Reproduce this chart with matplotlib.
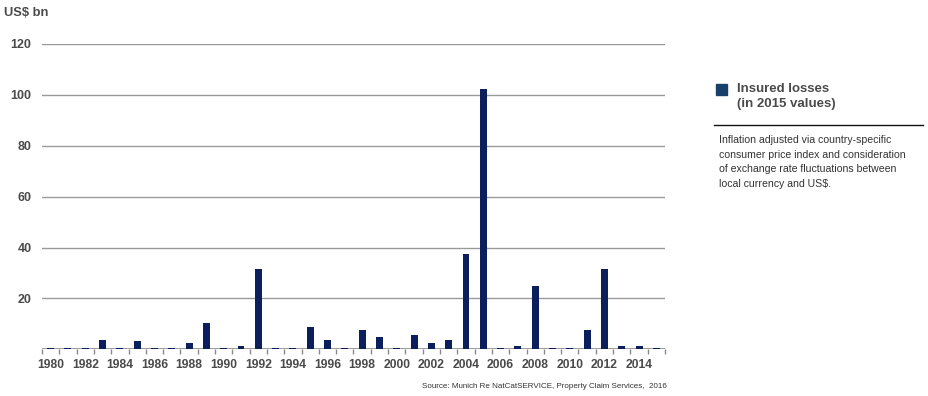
import matplotlib
matplotlib.use("Agg")
import matplotlib.pyplot as plt
import numpy as np

plt.rcParams['font.family'] = ['Liberation Sans', 'DejaVu Sans']

years = list(range(1980, 2016))
losses = [0.6, 0.6, 0.6, 3.8, 0.6, 3.1, 0.6, 0.6, 2.3, 10.5,
          0.6, 1.3, 31.4, 0.6, 0.6, 8.7, 3.8, 0.6, 7.7, 5.0,
          0.6, 5.5, 2.3, 3.8, 37.4, 102.3, 0.6, 1.3, 24.9, 0.6,
          0.7, 7.6, 31.6, 1.2, 1.4, 0.6]
yticks = [20, 40, 60, 80, 100, 120]
legend_label = "Insured losses\n(in 2015 values)"
note = ("Inflation adjusted via country-specific\n"
        "consumer price index and consideration\n"
        "of exchange rate fluctuations between\n"
        "local currency and US$.")
source = "Source: Munich Re NatCatSERVICE, Property Claim Services,  2016"

W, H = 929, 396
fig = plt.figure(figsize=(W / 100, H / 100), dpi=100)
ax = fig.add_axes([42 / W, 1 - 349.3 / H, (665 - 42) / W, (349.3 - 44) / H])

bar_color = "#0b1f5c"
text_color = "#4a4a4a"
x = np.arange(len(years))
ax.bar(x, losses, width=0.4, color=bar_color, zorder=3)

ax.set_xlim(-0.5, len(years) - 0.5)
ax.set_ylim(0, 120)
for y in yticks:
    ax.axhline(y, color="#9a9a9a", lw=1.0, zorder=1)
ax.axhline(0, color="#8a8a8a", lw=1.2, zorder=2)
ax.set_yticks(yticks)
ax.set_yticklabels([str(v) for v in yticks], fontsize=9, fontweight="bold", color=text_color)
ax.tick_params(axis="y", length=0, pad=7.5)

# minor ticks at category boundaries
ax.set_xticks(np.arange(-0.5, len(years), 1.0), minor=True)
ax.set_xticks(x[::2])
ax.set_xticklabels([str(years[i]) for i in x[::2]], fontsize=8.7, fontweight="bold", color=text_color)
ax.tick_params(axis="x", which="major", length=0, pad=7)
ax.tick_params(axis="x", which="minor", length=3.5, width=1, color="#8a8a8a", direction="out")
for s in ax.spines.values():
    s.set_visible(False)
ax.set_facecolor("none")

fig.text(4 / W, 1 - 13 / H, "US$ bn", fontsize=9.3, fontweight="bold", color=text_color,
         ha="left", va="center")

# legend
fig.patches.append(plt.Rectangle((716.5 / W, 1 - 94.5 / H), 10.5 / W, 11 / H,
                                 transform=fig.transFigure, color="#17406b", figure=fig))
fig.text(737 / W, 1 - 96.5 / H, legend_label, fontsize=9.5, fontweight="bold", color=text_color,
         ha="left", va="center", linespacing=1.35)
fig.add_artist(plt.Line2D([714 / W, 923 / W], [1 - 124.5 / H, 1 - 124.5 / H],
                          transform=fig.transFigure, color="#111111", lw=1.0))
fig.text(719 / W, 1 - 162 / H, note, fontsize=7.6, color="#333333",
         ha="left", va="center", linespacing=1.58)

fig.text(667 / W, 1 - 387 / H, source, fontsize=5.75, color="#333333", ha="right", va="center")

fig.savefig("out.png", dpi=100)
